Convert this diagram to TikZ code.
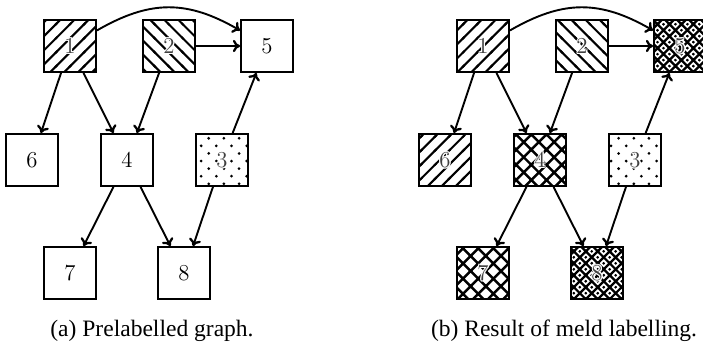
\documentclass[tikz,border=0pt]{standalone}
\usepackage{fontspec}
\newfontfamily\capfont{Liberation Serif}
\usetikzlibrary{arrows.meta,patterns}
% custom patterns
\pgfdeclarepatternformonly{myNE}{\pgfqpoint{-1pt}{-1pt}}{\pgfqpoint{8.4pt}{8.4pt}}{\pgfqpoint{7.4pt}{7.4pt}}{%
  \pgfsetlinewidth{1.1pt}%
  \pgfpathmoveto{\pgfqpoint{-0.6pt}{-0.6pt}}\pgfpathlineto{\pgfqpoint{8pt}{8pt}}\pgfusepath{stroke}}
\pgfdeclarepatternformonly{myNW}{\pgfqpoint{-1pt}{-1pt}}{\pgfqpoint{8.4pt}{8.4pt}}{\pgfqpoint{7.4pt}{7.4pt}}{%
  \pgfsetlinewidth{1.1pt}%
  \pgfpathmoveto{\pgfqpoint{-0.6pt}{8pt}}\pgfpathlineto{\pgfqpoint{8pt}{-0.6pt}}\pgfusepath{stroke}}
\pgfdeclarepatternformonly{myCH}{\pgfqpoint{-1pt}{-1pt}}{\pgfqpoint{9pt}{9pt}}{\pgfqpoint{8pt}{8pt}}{%
  \pgfsetlinewidth{1.3pt}%
  \pgfpathmoveto{\pgfqpoint{-0.6pt}{-0.6pt}}\pgfpathlineto{\pgfqpoint{8.6pt}{8.6pt}}%
  \pgfpathmoveto{\pgfqpoint{-0.6pt}{8.6pt}}\pgfpathlineto{\pgfqpoint{8.6pt}{-0.6pt}}\pgfusepath{stroke}}
\pgfdeclarepatternformonly{myCHD}{\pgfqpoint{-1pt}{-1pt}}{\pgfqpoint{7.3pt}{7.3pt}}{\pgfqpoint{6.3pt}{6.3pt}}{%
  \pgfsetlinewidth{1.2pt}%
  \pgfpathmoveto{\pgfqpoint{-0.6pt}{-0.6pt}}\pgfpathlineto{\pgfqpoint{6.9pt}{6.9pt}}%
  \pgfpathmoveto{\pgfqpoint{-0.6pt}{6.9pt}}\pgfpathlineto{\pgfqpoint{6.9pt}{-0.6pt}}\pgfusepath{stroke}%
  \pgfpathcircle{\pgfqpoint{3.15pt}{0pt}}{0.7pt}%
  \pgfpathcircle{\pgfqpoint{3.15pt}{6.3pt}}{0.7pt}%
  \pgfpathcircle{\pgfqpoint{0pt}{3.15pt}}{0.7pt}%
  \pgfpathcircle{\pgfqpoint{6.3pt}{3.15pt}}{0.7pt}\pgfusepath{fill}}
\pgfdeclarepatternformonly{myDots}{\pgfqpoint{-1pt}{-1pt}}{\pgfqpoint{9pt}{9pt}}{\pgfqpoint{8pt}{8pt}}{%
  \pgfpathcircle{\pgfqpoint{2pt}{2pt}}{0.8pt}%
  \pgfpathcircle{\pgfqpoint{6pt}{6pt}}{0.8pt}\pgfusepath{fill}}
% digit with a white halo so it stays readable over a pattern
\newcommand\halodigit[1]{%
  \leavevmode\rlap{\color{white}%
    \rlap{\kern0.6pt#1}\rlap{\kern-0.6pt#1}%
    \rlap{\raise0.6pt\hbox{#1}}\rlap{\raise-0.6pt\hbox{#1}}%
    \rlap{\kern0.45pt\raise0.45pt\hbox{#1}}\rlap{\kern-0.45pt\raise0.45pt\hbox{#1}}%
    \rlap{\kern0.45pt\raise-0.45pt\hbox{#1}}\rlap{\kern-0.45pt\raise-0.45pt\hbox{#1}}}%
  {\color{black!75}#1}}
\tikzset{
  box/.style={draw, line width=1pt, minimum size=27.4pt, inner sep=0pt, font=\large},
  pNE/.style={pattern=myNE},
  pNW/.style={pattern=myNW},
  pCH/.style={pattern=myCH},
  pCHD/.style={pattern=myCHD},
  pDots/.style={pattern=myDots},
  conn/.style={line width=1pt, -{To[length=3.8pt,width=6.5pt,line width=1.2pt]}},
  captext/.style={font=\capfont\fontsize{12.4}{14}\selectfont, inner sep=0pt}
}
\begin{document}
\begin{tikzpicture}[x=0.527pt, y=-0.527pt]
\fill[white] (0,0) rectangle (703,347);
\useasboundingbox (0,0) rectangle (703,347);
% (a)
\node[box,pNE] (a1) at (70,46) {\halodigit{1}};
\node[box,pNW] (a2) at (169,46) {\halodigit{2}};
\node[box] (a5) at (267,46) {5};
\node[box] (a6) at (32,160) {6};
\node[box] (a4) at (127,160) {4};
\node[box,pDots] (a3) at (222,160) {\halodigit{3}};
\node[box] (a7) at (70,273) {7};
\node[box] (a8) at (184,273) {8};
\draw[conn] (a1) to[out=30,in=150,looseness=1.1] (a5);
\draw[conn] (a2) -- (a5);
\draw[conn] (a1) -- (a6);
\draw[conn] (a1) -- (a4);
\draw[conn] (a2) -- (a4);
\draw[conn] (a3) -- (a5);
\draw[conn] (a4) -- (a7);
\draw[conn] (a4) -- (a8);
\draw[conn] (a3) -- (a8);
\node[captext] (capa) at (152,331) {(a) Prelabelled graph.};
% (b)
\node[box,pNE] (b1) at (483,46) {\halodigit{1}};
\node[box,pNW] (b2) at (582,46) {\halodigit{2}};
\node[box,pCHD] (b5) at (680,46) {\halodigit{5}};
\node[box,pNE] (b6) at (445,160) {\halodigit{6}};
\node[box,pCH] (b4) at (540,160) {\halodigit{4}};
\node[box,pDots] (b3) at (635,160) {\halodigit{3}};
\node[box,pCH] (b7) at (483,273) {\halodigit{7}};
\node[box,pCHD] (b8) at (597,273) {\halodigit{8}};
\draw[conn] (b1) to[out=30,in=150,looseness=1.1] (b5);
\draw[conn] (b2) -- (b5);
\draw[conn] (b1) -- (b6);
\draw[conn] (b1) -- (b4);
\draw[conn] (b2) -- (b4);
\draw[conn] (b3) -- (b5);
\draw[conn] (b4) -- (b7);
\draw[conn] (b4) -- (b8);
\draw[conn] (b3) -- (b8);
\node[captext] (capb) at (564,331) {(b) Result of meld labelling.};
\end{tikzpicture}
\end{document}
